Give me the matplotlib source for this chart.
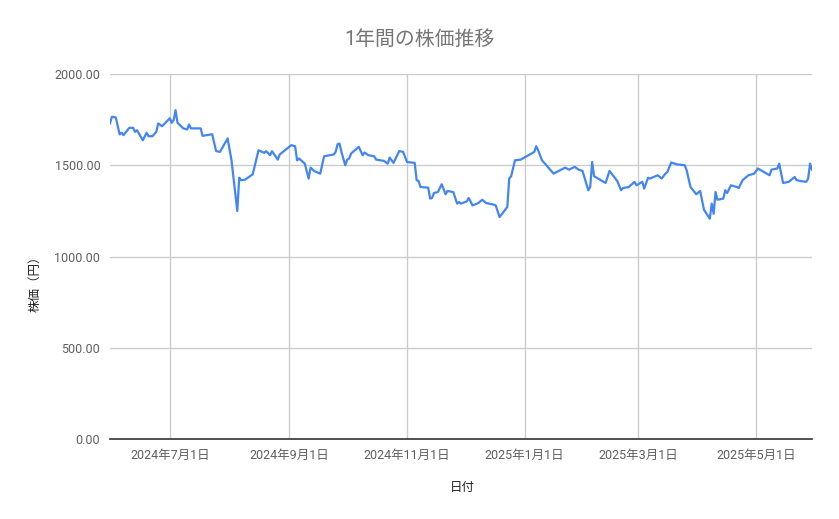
import matplotlib
matplotlib.use("Agg")
import matplotlib.pyplot as plt
import matplotlib.ticker as mticker
import pandas as pd

plt.rcParams['font.family'] = ['Roboto', 'Noto Sans CJK JP', 'DejaVu Sans']

dates = [
    "2024-05-31", "2024-06-01", "2024-06-03", "2024-06-05", "2024-06-06", "2024-06-07",
    "2024-06-10", "2024-06-12", "2024-06-13", "2024-06-14", "2024-06-17", "2024-06-19",
    "2024-06-20", "2024-06-22", "2024-06-24", "2024-06-25", "2024-06-27",
    "2024-07-01", "2024-07-02", "2024-07-03", "2024-07-04", "2024-07-05", "2024-07-08",
    "2024-07-10", "2024-07-11", "2024-07-12", "2024-07-17", "2024-07-18", "2024-07-23",
    "2024-07-25", "2024-07-27", "2024-07-31",
    "2024-08-02", "2024-08-05", "2024-08-06", "2024-08-07", "2024-08-09", "2024-08-13",
    "2024-08-16", "2024-08-19", "2024-08-20", "2024-08-22", "2024-08-23", "2024-08-26",
    "2024-08-27",
    "2024-09-02", "2024-09-04", "2024-09-05", "2024-09-06", "2024-09-09", "2024-09-11",
    "2024-09-12", "2024-09-14", "2024-09-17", "2024-09-19", "2024-09-24", "2024-09-25",
    "2024-09-26", "2024-09-27", "2024-09-28", "2024-09-30",
    "2024-10-01", "2024-10-02", "2024-10-03", "2024-10-07", "2024-10-09", "2024-10-10",
    "2024-10-12", "2024-10-15", "2024-10-16", "2024-10-20", "2024-10-22", "2024-10-23",
    "2024-10-25", "2024-10-28", "2024-10-30",
    "2024-11-01", "2024-11-05", "2024-11-06", "2024-11-07", "2024-11-08", "2024-11-12",
    "2024-11-13", "2024-11-14", "2024-11-15", "2024-11-17", "2024-11-19", "2024-11-21",
    "2024-11-22", "2024-11-25", "2024-11-27", "2024-11-28", "2024-11-29",
    "2024-12-02", "2024-12-03", "2024-12-05", "2024-12-08", "2024-12-10", "2024-12-12",
    "2024-12-16", "2024-12-17", "2024-12-19", "2024-12-23", "2024-12-24", "2024-12-25",
    "2024-12-27", "2024-12-30",
    "2025-01-06", "2025-01-07", "2025-01-08", "2025-01-10", "2025-01-13", "2025-01-16",
    "2025-01-20", "2025-01-22", "2025-01-24", "2025-01-27", "2025-01-29", "2025-01-31",
    "2025-02-03", "2025-02-04", "2025-02-05", "2025-02-06", "2025-02-09", "2025-02-12",
    "2025-02-14", "2025-02-17", "2025-02-18", "2025-02-20", "2025-02-21", "2025-02-24",
    "2025-02-27", "2025-02-28",
    "2025-03-03", "2025-03-04", "2025-03-06", "2025-03-07", "2025-03-11", "2025-03-13",
    "2025-03-15", "2025-03-16", "2025-03-18", "2025-03-21", "2025-03-25", "2025-03-26",
    "2025-03-28", "2025-03-31",
    "2025-04-02", "2025-04-04", "2025-04-07", "2025-04-08", "2025-04-09", "2025-04-10",
    "2025-04-11", "2025-04-14", "2025-04-15", "2025-04-16", "2025-04-18", "2025-04-21",
    "2025-04-22", "2025-04-24", "2025-04-27", "2025-04-30",
    "2025-05-02", "2025-05-08", "2025-05-09", "2025-05-12", "2025-05-13", "2025-05-15",
    "2025-05-18", "2025-05-21", "2025-05-22", "2025-05-25", "2025-05-27", "2025-05-28",
    "2025-05-29", "2025-05-30",
]

prices = [
    1729, 1766, 1762, 1669, 1678, 1665,
    1705, 1705, 1683, 1692, 1637, 1678,
    1659, 1659, 1683, 1729, 1714,
    1757, 1733, 1747, 1802, 1733, 1702,
    1696, 1723, 1702, 1702, 1661, 1670,
    1578, 1573, 1647,
    1527, 1249, 1432, 1418, 1421, 1450,
    1582, 1568, 1577, 1555, 1577, 1531,
    1559,
    1610, 1604, 1527, 1537, 1509, 1427,
    1487, 1467, 1454, 1549, 1559, 1573,
    1615, 1619, 1573, 1500,
    1531, 1537, 1564, 1601, 1555, 1570,
    1555, 1549, 1531, 1524, 1509, 1542,
    1513, 1578, 1573,
    1518, 1513, 1418, 1414, 1381, 1377,
    1317, 1321, 1348, 1353, 1396, 1341,
    1359, 1353, 1290, 1298, 1290,
    1302, 1321, 1280, 1293, 1311, 1293,
    1284, 1280, 1216, 1271, 1427, 1440,
    1527, 1531,
    1573, 1604, 1582, 1527, 1491, 1454,
    1476, 1487, 1476, 1491, 1476, 1469,
    1363, 1381, 1518, 1440, 1421, 1403,
    1469, 1427, 1414, 1363, 1375, 1381,
    1409, 1390,
    1409, 1372, 1432, 1427, 1445, 1427,
    1454, 1463, 1515, 1505, 1500, 1472,
    1381, 1341,
    1359, 1256, 1207, 1290, 1234, 1353,
    1311, 1317, 1363, 1348, 1390, 1381,
    1375, 1418, 1445, 1454,
    1482, 1445, 1476, 1482, 1509, 1403,
    1409, 1436, 1418, 1412, 1409, 1427,
    1509, 1476,
]

x_ticks = ["2024-07-01", "2024-09-01", "2024-11-01", "2025-01-01", "2025-03-01", "2025-05-01"]
x_tick_labels = ["2024年7月1日", "2024年9月1日", "2024年11月1日", "2025年1月1日", "2025年3月1日", "2025年5月1日"]
y_ticks = [0, 500, 1000, 1500, 2000]

title = "1年間の株価推移"
x_label = "日付"
y_label = "株価（円）"

d = pd.to_datetime(dates)

fig = plt.figure(figsize=(8.39, 5.19), dpi=100)
ax = fig.add_axes([110 / 839, 80 / 519, 702 / 839, 365 / 519])

ax.plot(d, prices, color="#4285f4", linewidth=1.6, solid_joinstyle="round")

ax.set_xlim(d[0], d[-1])
ax.set_ylim(0, 2000)
ax.set_yticks(y_ticks)
ax.yaxis.set_major_formatter(mticker.FuncFormatter(lambda v, p: f"{v:.2f}"))
ax.set_xticks(pd.to_datetime(x_ticks))
ax.set_xticklabels(x_tick_labels)

ax.grid(True, color="#cccccc", linewidth=1.0)
ax.set_axisbelow(True)
for s in ["top", "right", "left"]:
    ax.spines[s].set_visible(False)
ax.spines["bottom"].set_color("#333333")
ax.spines["bottom"].set_linewidth(1.2)
ax.spines["bottom"].set_zorder(3)
ax.tick_params(axis="both", length=0, labelsize=9, labelcolor="#5f5f5f")
ax.tick_params(axis="y", pad=7)
ax.tick_params(axis="x", pad=7)

fig.text(419 / 839, 1 - 39 / 519, title, ha="center", va="center", fontsize=14.3, color="#757575")
fig.text(462 / 839, 1 - 487 / 519, x_label, ha="center", va="center", fontsize=9, color="#222222")
fig.text(35 / 839, 1 - 281 / 519, y_label, ha="center", va="center", fontsize=9, color="#222222", rotation=90)

fig.savefig("out.png", dpi=100)
